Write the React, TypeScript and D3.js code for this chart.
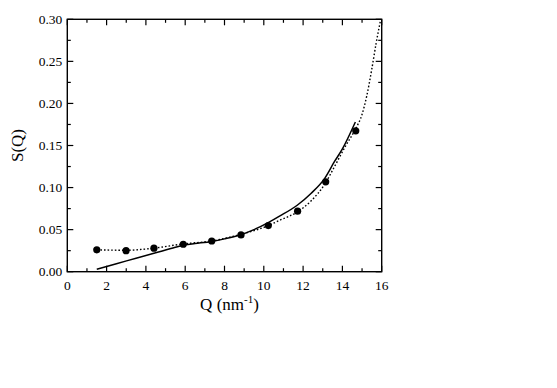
import React from "react";
import * as d3 from "d3";

// measured points
const dotQ = [1.5, 2.99, 4.41, 5.9, 7.35, 8.84, 10.23, 11.72, 13.15, 14.68];
const dotS = [0.026, 0.025, 0.028, 0.0326, 0.0365, 0.0437, 0.0548, 0.0719, 0.1068, 0.1675];

// solid model curve
const solidQ = [1.5, 2.5, 3.5, 4.5, 5.5, 6.0, 6.5, 7.35, 8.0, 8.84, 9.5, 10.2, 10.8, 11.7, 12.4, 13.1, 13.6, 14.0, 14.66];
const solidS = [0.003, 0.0095, 0.016, 0.0225, 0.029, 0.032, 0.0335, 0.036, 0.039, 0.044, 0.05, 0.058, 0.066, 0.079, 0.093, 0.111, 0.131, 0.146, 0.178];

// dotted fit curve
const dottedQ = [1.5, 3.0, 4.4, 5.9, 7.35, 8.84, 10.2, 10.8, 11.7, 12.4, 13.1, 13.6, 14.2, 14.7, 15.0, 15.24, 15.49, 15.72, 15.95];
const dottedS = [0.026, 0.0255, 0.028, 0.033, 0.0365, 0.0445, 0.0545, 0.061, 0.071, 0.084, 0.104, 0.125, 0.151, 0.171, 0.187, 0.209, 0.24, 0.272, 0.3];

const xMajor = [0, 2, 4, 6, 8, 10, 12, 14, 16];
const yMajor = [0, 0.05, 0.1, 0.15, 0.2, 0.25, 0.3];

const W = 557;
const H = 388;
const margin = { left: 67.3, right: 557 - 381.7, top: 19.3, bottom: 388 - 271.7 };
const font = "Liberation Serif, DejaVu Serif, serif";

const App = () => {
  const x = d3.scaleLinear().domain([0, 16]).range([margin.left, W - margin.right]);
  const y = d3.scaleLinear().domain([0, 0.3]).range([H - margin.bottom, margin.top]);

  const line = d3
    .line<[number, number]>()
    .x(d => x(d[0]))
    .y(d => y(d[1]))
    .curve(d3.curveMonotoneX);

  const solid = solidQ.map((q, i) => [q, solidS[i]] as [number, number]);
  const dotted = dottedQ.map((q, i) => [q, dottedS[i]] as [number, number]);

  const xMinor = d3.range(1, 16, 2);
  const yMinor = d3.range(0.025, 0.3, 0.05);

  const x0 = x(0), x1 = x(16), y0 = y(0), y1 = y(0.3);

  return (
    <svg width={W} height={H} style={{ position: "absolute", left: 0, top: 0 }}>
      {/* ticks, pointing inward on all four sides */}
      <g stroke="#000" strokeWidth={1.2}>
        {xMajor.map(v => (
          <g key={"xm" + v}>
            <line x1={x(v)} x2={x(v)} y1={y0} y2={y0 - 6} />
            <line x1={x(v)} x2={x(v)} y1={y1} y2={y1 + 6} />
          </g>
        ))}
        {xMinor.map(v => (
          <g key={"xn" + v}>
            <line x1={x(v)} x2={x(v)} y1={y0} y2={y0 - 3.5} />
            <line x1={x(v)} x2={x(v)} y1={y1} y2={y1 + 3.5} />
          </g>
        ))}
        {yMajor.map(v => (
          <g key={"ym" + v}>
            <line x1={x0} x2={x0 + 6} y1={y(v)} y2={y(v)} />
            <line x1={x1} x2={x1 - 6} y1={y(v)} y2={y(v)} />
          </g>
        ))}
        {yMinor.map(v => (
          <g key={"yn" + v}>
            <line x1={x0} x2={x0 + 3.5} y1={y(v)} y2={y(v)} />
            <line x1={x1} x2={x1 - 3.5} y1={y(v)} y2={y(v)} />
          </g>
        ))}
      </g>
      <rect x={x0} y={y1} width={x1 - x0} height={y0 - y1} fill="none" stroke="#000" strokeWidth={1.4} />

      {/* tick labels */}
      <g fill="#000" fontFamily={font} fontSize={13.5}>
        {xMajor.map(v => (
          <text key={"xl" + v} x={x(v)} y={y0 + 18} textAnchor="middle">{v}</text>
        ))}
        {yMajor.map(v => (
          <text key={"yl" + v} x={x0 - 5} y={y(v) + 4.5} textAnchor="end">{v.toFixed(2)}</text>
        ))}
      </g>

      {/* curves */}
      <path d={line(solid) ?? ""} fill="none" stroke="#000" strokeWidth={1.5} />
      <path d={line(dotted) ?? ""} fill="none" stroke="#000" strokeWidth={1.4} strokeDasharray="1.6,2" />

      {dotQ.map((q, i) => (
        <circle key={"d" + i} cx={x(q)} cy={y(dotS[i])} r={3.6} fill="#000" />
      ))}

      {/* axis titles */}
      <text x={(x0 + x1) / 2 + 5} y={310} textAnchor="middle" fontFamily={font} fontSize={17}>
        Q (nm<tspan fontSize={11} dy={-7}>-1</tspan><tspan dy={7}>)</tspan>
      </text>
      <text transform={`translate(23,${(y0 + y1) / 2}) rotate(-90)`} textAnchor="middle" fontFamily={font} fontSize={17}>
        S(Q)
      </text>
    </svg>
  );
};

export default App;
